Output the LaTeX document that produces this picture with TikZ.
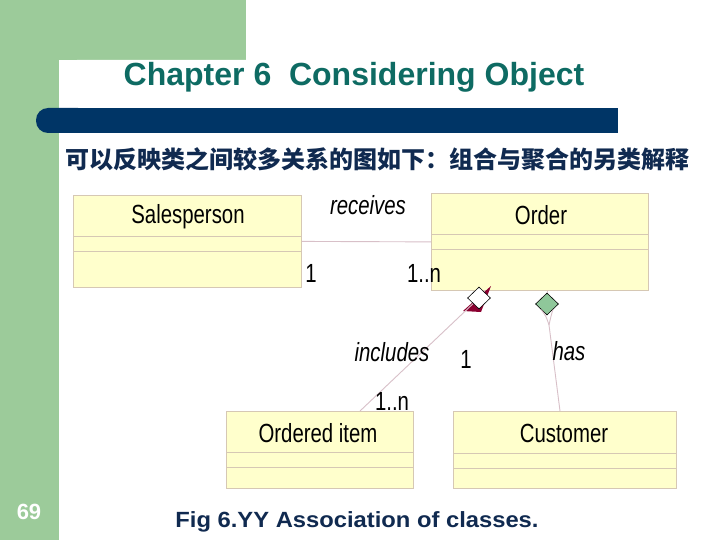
\documentclass[tikz,border=0pt]{standalone}
\usepackage{fontspec}
\setmainfont{Liberation Sans}
\newfontfamily\cjk{Noto Sans CJK SC}
\usetikzlibrary{shapes.geometric}
\definecolor{sidegreen}{RGB}{156,203,154}
\definecolor{barnavy}{RGB}{0,53,102}
\definecolor{titleteal}{RGB}{14,107,99}
\definecolor{textnavy}{RGB}{16,42,80}
\definecolor{boxfill}{RGB}{255,255,204}
\definecolor{boxline}{RGB}{214,200,180}
\definecolor{linkline}{RGB}{216,192,200}
\definecolor{arrowred}{RGB}{139,0,48}
\definecolor{compgreen}{RGB}{143,199,154}
\newcommand{\umltext}[1]{\scalebox{0.97}[1.25]{#1}}
\begin{document}
\begin{tikzpicture}[x=1pt,y=-1pt,
  classbox/.style={draw=boxline, fill=boxfill, line width=0.8pt, inner sep=0pt, anchor=north west},
  compart/.style={draw=boxline, line width=0.8pt},
  cname/.style={font=\fontsize{21}{24}\selectfont, inner sep=0pt},
  lbl/.style={font=\fontsize{21}{24}\selectfont, inner sep=0pt},
  ilbl/.style={font=\fontsize{21}{24}\selectfont\itshape, inner sep=0pt},
  link/.style={draw=linkline, line width=0.9pt},
  agg/.style={diamond, draw=black, line width=0.6pt, inner sep=0pt, minimum width=23pt, minimum height=22pt}]
\useasboundingbox (0,0) rectangle (720,540);
% background
\fill[sidegreen] (0,0) rectangle (246,60);
\fill[sidegreen] (0,0) rectangle (59,540);
\fill[white] (59,540) -- (59,78) arc[start angle=180, end angle=270, radius=18] -- (720,60) -- (720,540) -- cycle;
% navy bar
\fill[barnavy, rounded corners=12pt] (36,108) rectangle (90,133);
\fill[barnavy] (70,108) rectangle (618,133);
% title
\node[text=titleteal, font=\fontsize{32}{36}\selectfont\bfseries, inner sep=0pt, anchor=base] (title) at (354,86) {Chapter 6\ \ Considering Object};
\node[text=textnavy, font=\cjk\fontsize{24}{28}\selectfont\bfseries, inner sep=0pt] (sub) at (377,159) {可以反映类之间较多关系的图如下：组合与聚合的另类解释};
% classes
\node[classbox, minimum width=228pt, minimum height=92pt] (sp) at (73,195) {};
\draw[compart] ([yshift=-41pt]sp.north west) -- ([yshift=-41pt]sp.north east);
\draw[compart] ([yshift=-56pt]sp.north west) -- ([yshift=-56pt]sp.north east);
\node[cname] (spn) at (188,217) {\umltext{Salesperson}};

\node[classbox, minimum width=217pt, minimum height=97pt] (ord) at (431,193) {};
\draw[compart] ([yshift=-41pt]ord.north west) -- ([yshift=-41pt]ord.north east);
\draw[compart] ([yshift=-56pt]ord.north west) -- ([yshift=-56pt]ord.north east);
\node[cname] (ordn) at (541,215) {\umltext{Order}};

\node[classbox, minimum width=187pt, minimum height=77pt] (oi) at (226,411) {};
\draw[compart] ([yshift=-41pt]oi.north west) -- ([yshift=-41pt]oi.north east);
\draw[compart] ([yshift=-56pt]oi.north west) -- ([yshift=-56pt]oi.north east);
\node[cname] (oin) at (318,433) {\umltext{Ordered item}};

\node[classbox, minimum width=223pt, minimum height=77pt] (cu) at (453,411) {};
\draw[compart] ([yshift=-42pt]cu.north west) -- ([yshift=-42pt]cu.north east);
\draw[compart] ([yshift=-57pt]cu.north west) -- ([yshift=-57pt]cu.north east);
\node[cname] (cun) at (564,433) {\umltext{Customer}};

% receives association
\draw[link] (sp.east) -- (ord.west);
\node[ilbl] (rec) at (368,205) {\umltext{receives}};
\node[lbl] (m1) at (311,273) {\umltext{1}};
\node[lbl] (m2) at (424,273) {\umltext{1..n}};

% includes aggregation
\coordinate (incA) at (360,411);
\fill[arrowred] (491,286) -- (463,311) -- (481,312) -- cycle;
\node[agg, fill=white] (d1) at (479,298) {};
\draw[link] (incA) -- (d1.south west);
\node[ilbl] (inc) at (392,352) {\umltext{includes}};
\node[lbl] (m3) at (466,359) {\umltext{1}};
\node[lbl] (m4) at (392,401) {\umltext{1..n}};

% has composition
\node[agg, fill=compgreen] (d2) at (547,304) {};
\coordinate (hasB) at (560,411);
\coordinate (fork) at (549,325);
\draw[link] (ord.south -| d2.north) -- (d2.north);
\draw[link] (d2.south west) .. controls (546,316) .. (fork);
\draw[link] (d2.south east) .. controls (551,316) .. (fork);
\draw[link] (fork) -- (hasB);
\node[ilbl] (has) at (569,351) {\umltext{has}};

% footer
\node[text=white, font=\fontsize{22}{26}\selectfont\bfseries, inner sep=0pt] (pg) at (29,512) {69};
\node[text=textnavy, font=\fontsize{22}{26}\selectfont\bfseries, inner sep=0pt, anchor=base] (fig) at (357,527) {\scalebox{1.08}[1]{Fig 6.YY Association of classes.}};
\end{tikzpicture}
\end{document}
